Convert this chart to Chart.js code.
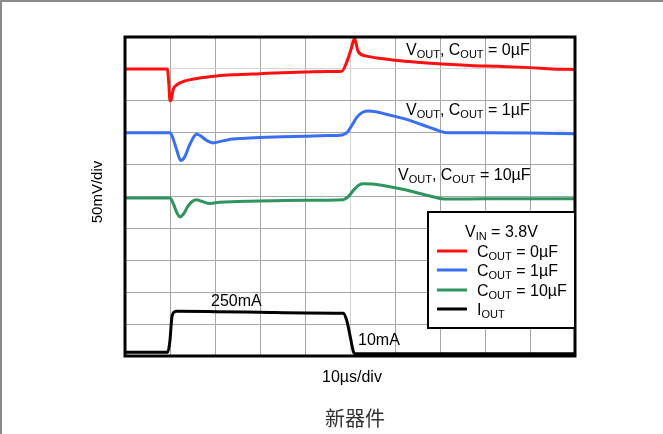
<!DOCTYPE html>
<html>
<head>
<meta charset="utf-8">
<script src="https://cdn.jsdelivr.net/npm/chart.js@4.4.1/dist/chart.umd.min.js"></script>
<style>
  body { margin: 0; background: #fff; }
  #wrap { width: 663px; height: 434px; position: relative; }
</style>
</head>
<body>
<div id="wrap"><canvas id="scope" width="663" height="434"></canvas></div>
<script>
// time in us (10us/div), traces in screen divisions (50mV/div)
var redT   = [0, 9.4, 9.7, 10.0, 10.3, 10.7, 11.5, 12.9, 16, 20.4, 25, 30, 35, 40, 45, 48.2, 49.5, 50.3, 51.0, 51.8, 53.7, 57.4, 62.2, 68, 76.7, 83, 90, 95, 100];
var redV   = [9.0, 9.0, 8.6, 8.0, 8.05, 8.35, 8.5, 8.6, 8.7, 8.78, 8.82, 8.85, 8.88, 8.9, 8.92, 8.93, 9.3, 9.65, 9.95, 9.55, 9.4, 9.32, 9.24, 9.18, 9.11, 9.08, 9.04, 9.0, 8.98];

var blueT  = [0, 10, 10.6, 11.4, 12.4, 13.3, 14.3, 15.2, 15.9, 16.8, 18.2, 19.6, 21, 23, 26, 30, 35, 40, 45, 48.3, 49.5, 50.5, 51.5, 52.8, 54.2, 56, 58, 62, 66, 70, 71.5, 80, 90, 100];
var blueV  = [7.0, 7.0, 6.85, 6.5, 6.13, 6.25, 6.6, 6.85, 6.95, 6.9, 6.75, 6.68, 6.72, 6.78, 6.82, 6.85, 6.87, 6.89, 6.91, 6.93, 7.03, 7.25, 7.48, 7.64, 7.68, 7.65, 7.58, 7.44, 7.25, 7.05, 7.0, 7.0, 6.99, 6.97];

var greenT = [0, 10, 10.8, 11.5, 12.2, 13, 14, 15, 15.9, 17, 18.9, 21, 25, 30, 40, 48.5, 49.5, 50.8, 52, 53, 55, 58, 62, 66, 70, 72, 80, 90, 100];
var greenV = [4.95, 4.95, 4.75, 4.5, 4.36, 4.45, 4.7, 4.85, 4.9, 4.85, 4.78, 4.82, 4.84, 4.86, 4.88, 4.9, 4.98, 5.2, 5.36, 5.4, 5.39, 5.33, 5.22, 5.08, 4.94, 4.92, 4.93, 4.93, 4.93];

var ioutT  = [0, 9.5, 10.0, 10.4, 11.0, 11.5, 20, 30, 40, 48.5, 49.3, 50.2, 50.8, 51.2, 60, 80, 100];
var ioutV  = [0.12, 0.12, 0.5, 1.2, 1.38, 1.4, 1.39, 1.37, 1.35, 1.34, 1.1, 0.5, 0.12, 0.07, 0.07, 0.07, 0.07];

var seriesNames  = ["COUT = 0µF", "COUT = 1µF", "COUT = 10µF", "IOUT"];
var seriesColors = ["#ff1010", "#3a6ff2", "#2f9460", "#000000"];

function toPoints(t, v) {
    var pts = [];
    for (var i = 0; i < t.length; i++) {
        pts.push({x: t[i], y: v[i]});
    }
    return pts;
}

// draws "main" text with small lowered pieces, e.g. V + OUT
function drawRich(ctx, parts, x, y) {
    var cx = x;
    parts.forEach(function (p) {
        if (p[1]) {
            ctx.font = "11px 'Liberation Sans', Arial, sans-serif";
            ctx.fillText(p[0], cx, y + 2.5);
        } else {
            ctx.font = "16px 'Liberation Sans', Arial, sans-serif";
            ctx.fillText(p[0], cx, y);
        }
        cx += ctx.measureText(p[0]).width;
    });
    return cx - x;
}

var overlay = {
    id: "overlay",
    beforeDraw: function (chart) {
        var ctx = chart.ctx;
        ctx.save();
        ctx.fillStyle = "#fff";
        ctx.fillRect(0, 0, chart.width, chart.height);
        // page frame
        ctx.strokeStyle = "#8a8a8a";
        ctx.lineWidth = 2;
        ctx.beginPath();
        ctx.moveTo(1, 434);
        ctx.lineTo(1, 1);
        ctx.lineTo(663, 1);
        ctx.stroke();
        ctx.restore();
    },
    afterDraw: function (chart) {
        var ctx = chart.ctx;
        var a = chart.chartArea;
        ctx.save();
        ctx.strokeStyle = "#000";
        ctx.lineWidth = 3;
        ctx.strokeRect(a.left, a.top, a.right - a.left, a.bottom - a.top);

        ctx.fillStyle = "#000";
        ctx.textBaseline = "alphabetic";
        ctx.textAlign = "left";
        drawRich(ctx, [["V", 0], ["OUT", 1], [", C", 0], ["OUT", 1], [" = 0µF", 0]], 406, 55);
        drawRich(ctx, [["V", 0], ["OUT", 1], [", C", 0], ["OUT", 1], [" = 1µF", 0]], 406, 115);
        drawRich(ctx, [["V", 0], ["OUT", 1], [", C", 0], ["OUT", 1], [" = 10µF", 0]], 398, 180);
        drawRich(ctx, [["250mA", 0]], 211, 306);
        drawRich(ctx, [["10mA", 0]], 358, 345);

        // legend box
        ctx.fillStyle = "#fff";
        ctx.fillRect(428, 212, 147, 116);
        ctx.strokeStyle = "#000";
        ctx.lineWidth = 2;
        ctx.strokeRect(428, 212, 147, 116);
        ctx.fillStyle = "#000";
        drawRich(ctx, [["V", 0], ["IN", 1], [" = 3.8V", 0]], 465, 237);
        var rows = [257, 276, 296, 315];
        ctx.lineWidth = 3;
        for (var i = 0; i < seriesNames.length; i++) {
            ctx.strokeStyle = seriesColors[i];
            ctx.beginPath();
            ctx.moveTo(437, rows[i] - 6);
            ctx.lineTo(467, rows[i] - 6);
            ctx.stroke();
            var nm = seriesNames[i];
            ctx.fillStyle = "#000";
            drawRich(ctx, [[nm.charAt(0), 0], ["OUT", 1], [nm.slice(4), 0]], 477, rows[i]);
        }

        // axis captions
        ctx.font = "16px 'Liberation Sans', Arial, sans-serif";
        ctx.fillText("10µs/div", 322, 382);
        ctx.save();
        ctx.translate(102, 192);
        ctx.rotate(-Math.PI / 2);
        ctx.textAlign = "center";
        ctx.font = "15px 'Liberation Sans', Arial, sans-serif";
        ctx.fillText("50mV/div", 0, 0);
        ctx.restore();

        ctx.fillStyle = "#333";
        ctx.textAlign = "center";
        ctx.font = "20px 'Noto Sans CJK SC', sans-serif";
        ctx.fillText("新器件", 355, 426);
        ctx.restore();
    }
};

var traces = [[redT, redV], [blueT, blueV], [greenT, greenV], [ioutT, ioutV]];
var datasets = traces.map(function (tr, i) {
    return {
        label: seriesNames[i],
        data: toPoints(tr[0], tr[1]),
        borderColor: seriesColors[i],
        borderWidth: 3,
        pointRadius: 0,
        cubicInterpolationMode: "monotone",
        fill: false
    };
});

var config = {
    type: "line",
    data: {datasets: datasets},
    options: {
        responsive: false,
        animation: false,
        layout: {padding: {left: 125, right: 88, top: 37, bottom: 78}},
        plugins: {legend: {display: false}, tooltip: {enabled: false}},
        scales: {
            x: {
                type: "linear", min: 0, max: 100,
                ticks: {display: false, stepSize: 10},
                border: {display: false},
                grid: {
                    drawTicks: false,
                    color: function (c) { return c.tick && c.tick.value === 50 ? "#d4d4d4" : "#a6a6a6"; }
                }
            },
            y: {
                type: "linear", min: 0, max: 10,
                ticks: {display: false, stepSize: 1},
                border: {display: false},
                grid: {
                    drawTicks: false,
                    color: function (c) { return c.tick && c.tick.value === 9 ? "#d4d4d4" : "#a6a6a6"; }
                }
            }
        }
    },
    plugins: [overlay]
};

new Chart(document.getElementById("scope").getContext("2d"), config);
</script>
</body>
</html>
